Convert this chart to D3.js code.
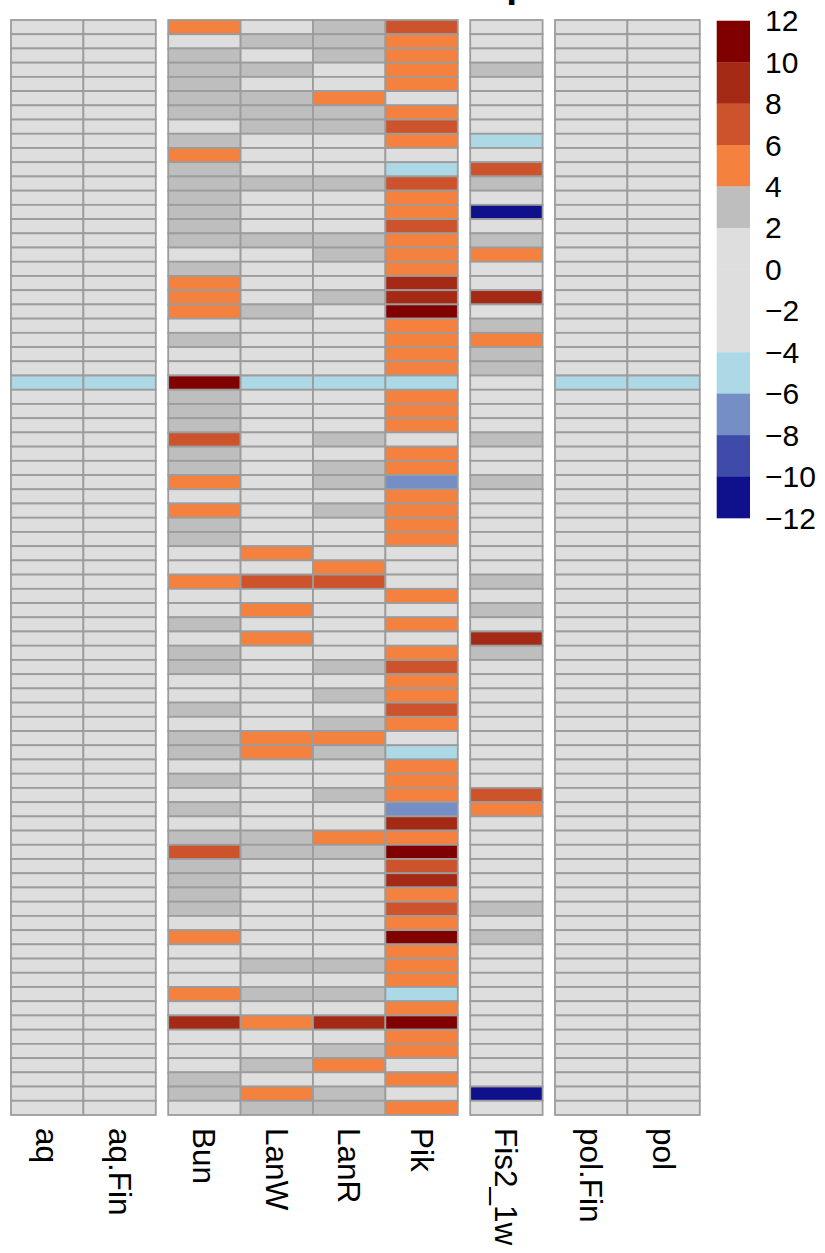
<!DOCTYPE html>
<html>
<head>
<meta charset="utf-8">
<script src="https://cdn.jsdelivr.net/npm/d3@7"></script>
<style>
body { margin: 0; background: #fff; }
text { font-family: "Liberation Sans", Arial, sans-serif; fill: #000; }
</style>
</head>
<body>
<svg id="svgcanvas" width="825" height="1253"></svg>
<script>
// column names and which gap group they sit in
var columns = ["aq", "aq.Fin", "Bun", "LanW", "LanR", "Pik", "Fis2_1w", "pol.Fin", "pol"];
var colGroup = [0, 0, 1, 1, 1, 1, 2, 3, 3];

// values per column, 77 rows, top to bottom
var aq     = [0,0,0,0,0,0,0,0,0,0,0,0,0,0,0,0,0,0,0,0,0,0,0,0,0,-5,0,0,0,0,0,0,0,0,0,0,0,0,0,0,0,0,0,0,0,0,0,0,0,0,0,0,0,0,0,0,0,0,0,0,0,0,0,0,0,0,0,0,0,0,0,0,0,0,0,0,0];
var aqFin  = [0,0,0,0,0,0,0,0,0,0,0,0,0,0,0,0,0,0,0,0,0,0,0,0,0,-5,0,0,0,0,0,0,0,0,0,0,0,0,0,0,0,0,0,0,0,0,0,0,0,0,0,0,0,0,0,0,0,0,0,0,0,0,0,0,0,0,0,0,0,0,0,0,0,0,0,0,0];
var Bun    = [5,0,3,3,3,3,3,0,3,5,3,3,3,3,3,3,0,3,5,5,5,0,3,0,0,11,3,3,3,7,3,3,5,0,5,3,3,0,0,5,0,0,3,0,3,3,0,0,3,0,3,3,0,3,0,3,0,3,7,3,3,3,3,0,5,0,0,0,5,0,9,0,0,0,3,3,0];
var LanW   = [0,3,0,3,0,3,3,3,0,0,0,3,0,0,0,3,0,0,0,0,3,0,0,0,0,-5,0,0,0,0,0,0,0,0,0,0,0,5,0,7,0,5,0,5,0,0,0,0,0,0,5,5,0,0,0,0,0,3,3,0,0,0,0,0,0,0,3,0,3,0,5,0,0,3,0,5,3];
var LanR   = [3,3,3,0,0,5,3,3,0,0,0,3,0,0,0,3,3,0,0,3,0,0,0,0,0,-5,0,0,0,3,0,3,3,0,3,0,0,0,5,7,0,0,0,0,0,3,0,3,0,3,5,3,0,0,3,0,0,5,3,0,0,0,0,0,0,0,3,0,3,0,9,0,3,5,0,3,3];
var Pik    = [7,5,5,5,5,0,5,7,5,0,-5,7,5,5,7,5,5,5,9,9,11,5,5,5,5,-5,5,5,5,0,5,5,-7,5,5,5,5,0,0,0,5,0,5,0,5,7,5,5,7,5,0,-5,5,5,5,-7,9,5,11,7,9,5,7,5,11,5,5,5,-5,5,11,5,5,0,5,0,5];
var Fis2   = [0,0,0,3,0,0,0,0,-5,0,7,3,0,-11,0,3,5,0,0,9,0,3,5,3,3,0,0,0,0,3,0,0,3,0,0,0,0,0,0,3,0,3,0,9,3,0,0,0,0,0,0,0,0,0,7,5,0,0,0,0,0,0,3,0,3,0,0,0,0,0,0,0,0,0,0,-11,0];
var polFin = [0,0,0,0,0,0,0,0,0,0,0,0,0,0,0,0,0,0,0,0,0,0,0,0,0,-5,0,0,0,0,0,0,0,0,0,0,0,0,0,0,0,0,0,0,0,0,0,0,0,0,0,0,0,0,0,0,0,0,0,0,0,0,0,0,0,0,0,0,0,0,0,0,0,0,0,0,0];
var pol    = [0,0,0,0,0,0,0,0,0,0,0,0,0,0,0,0,0,0,0,0,0,0,0,0,0,-5,0,0,0,0,0,0,0,0,0,0,0,0,0,0,0,0,0,0,0,0,0,0,0,0,0,0,0,0,0,0,0,0,0,0,0,0,0,0,0,0,0,0,0,0,0,0,0,0,0,0,0];

var series = [aq, aqFin, Bun, LanW, LanR, Pik, Fis2, polFin, pol];

// colour bins of the legend
var breaks = [-10, -8, -6, -4, -2, 0, 2, 4, 6, 8, 10];
var binColors = ["#0e108c", "#3f4ba8", "#768ec6", "#add8e6", "#dedede", "#dedede",
                 "#dedede", "#bebebe", "#f5813f", "#cc532b", "#a52a15", "#800000"];
var legendTicks = [12, 10, 8, 6, 4, 2, 0, -2, -4, -6, -8, -10, -12];

var color = d3.scaleThreshold().domain(breaks).range(binColors);

var svg = d3.select("#svgcanvas");
var nRows = aq.length;
var gap = 12.4;

var x = d3.scaleBand().domain(columns).range([11, 11 + 72.4 * columns.length]);
var y = d3.scaleBand().domain(d3.range(nRows)).range([20, 1115]);
function colX(c, i) { return x(c) + colGroup[i] * gap; }

// title (sits above the page, only its descender shows)
svg.append("text")
  .attr("x", 530).attr("y", -3)
  .attr("text-anchor", "end")
  .style("font-size", "39px").style("font-weight", "bold")
  .text("Heatmap");

var cells = [];
series.forEach(function(vals, i) {
  vals.forEach(function(v, r) { cells.push({col: columns[i], ci: i, row: r, v: v}); });
});

svg.selectAll("rect.cell")
  .data(cells)
  .enter().append("rect")
  .classed("cell", true)
  .attr("x", d => colX(d.col, d.ci))
  .attr("y", d => y(d.row))
  .attr("width", x.bandwidth())
  .attr("height", y.bandwidth())
  .attr("fill", d => color(d.v))
  .attr("stroke", "#9c9c9c")
  .attr("stroke-width", 1.8);

// column labels, rotated to read downward
svg.selectAll("text.collab")
  .data(columns)
  .enter().append("text")
  .classed("collab", true)
  .attr("transform", (d, i) => "translate(" + (colX(d, i) + x.bandwidth() / 2) + ",1128) rotate(90)")
  .attr("dominant-baseline", "central")
  .style("font-size", "31.5px")
  .text(d => d);

// legend
var ly = d3.scaleLinear().domain([12, -12]).range([20.7, 518]);
var legendBins = legendTicks.slice(0, -1);
svg.selectAll("rect.leg")
  .data(legendBins)
  .enter().append("rect")
  .classed("leg", true)
  .attr("x", 716.7)
  .attr("y", d => ly(d))
  .attr("width", 33.3)
  .attr("height", d => ly(d - 2) - ly(d) + 0.3)
  .attr("fill", d => color(d - 1));

svg.selectAll("text.legtick")
  .data(legendTicks)
  .enter().append("text")
  .classed("legtick", true)
  .attr("x", 765)
  .attr("y", d => ly(d))
  .attr("dominant-baseline", "central")
  .style("font-size", "30px")
  .text(d => d < 0 ? "\u2212" + Math.abs(d) : d);
</script>
</body>
</html>
